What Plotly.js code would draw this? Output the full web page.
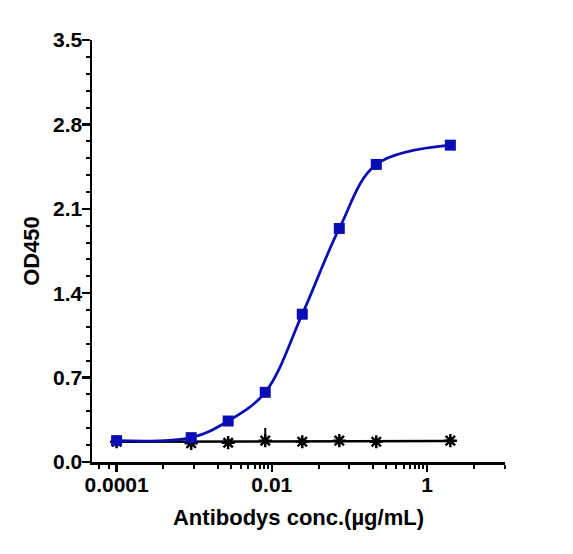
<!DOCTYPE html>
<html>
<head>
<meta charset="utf-8">
<script src="https://cdn.plot.ly/plotly-3.0.1.min.js"></script>
<style>
  html, body { margin: 0; padding: 0; background: #fff; }
  #myDiv { width: 573px; height: 554px; }
</style>
</head>
<body>
<div id="myDiv"></div>
<script>
// antibody concentrations (ug/mL), 3-fold dilutions plus blank at 0.0001
var conc = [0.0001, 0.000914, 0.00274, 0.00823, 0.0247, 0.0741, 0.222, 2.0];
// OD450 of the antibody
var odSample = [0.177, 0.202, 0.340, 0.578, 1.226, 1.937, 2.468, 2.628];
// OD450 of the control
var odControl = [0.168, 0.155, 0.160, 0.177, 0.168, 0.177, 0.168, 0.177];
var odControlErr = [0, 0, 0, 0.105, 0, 0, 0, 0];
// fitted control line
var odControlFit = [0.167, 0.168, 0.169, 0.170, 0.171, 0.172, 0.173, 0.174];

var xTicks = [0.0001, 0.01, 1];
var xTickText = ['0.0001', '0.01', '1'];
var xMinor = [0.00006, 0.00008, 0.0004, 0.001, 0.002, 0.003, 0.004, 0.005, 0.006, 0.007, 0.008, 0.009,
              0.04, 0.1, 0.2, 0.3, 0.4, 0.5, 0.6, 0.7, 0.8, 0.9, 4, 10];

var blue = '#0A0DB4';
var tickFont = {family: 'Liberation Sans, Arial, sans-serif', size: 21, color: '#000', weight: 'bold'};
var titleFont = {family: 'Liberation Sans, Arial, sans-serif', size: 22, color: '#000', weight: 'bold'};

var controlFit = {
  x: conc,
  y: odControlFit,
  type: 'scatter',
  mode: 'lines',
  line: {color: '#000', width: 2.5},
  hoverinfo: 'skip'
};

var control = {
  x: conc,
  y: odControl,
  type: 'scatter',
  mode: 'markers',
  marker: {symbol: 'asterisk-open', size: 11, color: '#000', line: {color: '#000', width: 2.5}},
  error_y: {type: 'data', symmetric: false, array: odControlErr, arrayminus: [0, 0, 0, 0, 0, 0, 0, 0],
            color: '#000', thickness: 2, width: 0}
};

var sample = {
  x: conc,
  y: odSample,
  type: 'scatter',
  mode: 'lines+markers',
  line: {color: blue, width: 2.7, shape: 'spline', smoothing: 1},
  marker: {symbol: 'square', size: 11, color: blue}
};

var layout = {
  width: 573,
  height: 554,
  margin: {l: 92, r: 68, t: 40, b: 92},
  showlegend: false,
  paper_bgcolor: '#fff',
  plot_bgcolor: '#fff',
  font: tickFont,
  xaxis: {
    type: 'log',
    range: [-4.317, 1.005],
    tickmode: 'array',
    tickvals: xTicks,
    ticktext: xTickText,
    ticks: 'outside',
    ticklen: 7,
    tickwidth: 2.5,
    tickcolor: '#000',
    ticklabelstandoff: -5,
    minor: {tickmode: 'array', tickvals: xMinor, ticks: 'outside', ticklen: 4, tickwidth: 2, tickcolor: '#000'},
    showline: true,
    linecolor: '#000',
    linewidth: 2.5,
    showgrid: false,
    zeroline: false,
    tickfont: tickFont,
    title: {text: 'Antibodys conc.(µg/mL)', font: titleFont, standoff: 15}
  },
  yaxis: {
    range: [0, 3.5],
    tickmode: 'linear',
    tick0: 0,
    dtick: 0.7,
    tickformat: '.1f',
    ticks: 'outside',
    ticklen: 8,
    tickwidth: 2.5,
    tickcolor: '#000',
    ticklabelstandoff: -5,
    minor: {dtick: 0.14, ticks: 'outside', ticklen: 4, tickwidth: 2, tickcolor: '#000'},
    showline: true,
    linecolor: '#000',
    linewidth: 2.5,
    showgrid: false,
    zeroline: false,
    tickfont: tickFont,
    title: {text: 'OD450', font: titleFont, standoff: 8}
  }
};

Plotly.newPlot('myDiv', [controlFit, control, sample], layout, {displayModeBar: false, staticPlot: true});
</script>
</body>
</html>
